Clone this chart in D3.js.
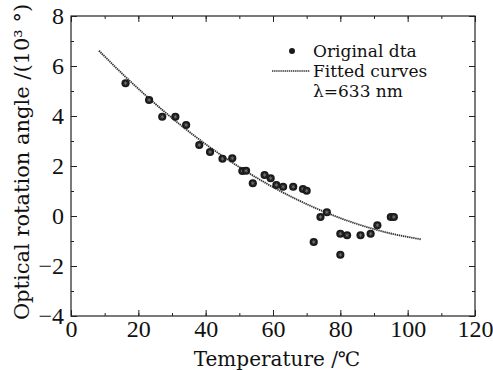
<!DOCTYPE html>
<html>
<head>
<meta charset="utf-8">
<script src="https://cdn.jsdelivr.net/npm/d3@7"></script>
<style>
  html, body { margin: 0; padding: 0; background: #fff; }
  svg { display: block; }
</style>
</head>
<body>
<svg id="chart" width="493" height="370"></svg>
<script>
// measured points (temperature in degC, optical rotation angle in 10^3 deg)
const temps = [16.2, 23.2, 27.1, 31.0, 34.2, 38.1, 41.3, 45.0, 47.9, 50.9,
  52.0, 54.0, 57.5, 59.3, 61.0, 63.0, 66.0, 68.9, 70.0, 72.1,
  74.1, 76.0, 80.0, 80.0, 82.0, 86.0, 89.0, 91.0, 95.0, 95.9];
const angles = [5.31, 4.64, 3.97, 3.97, 3.64, 2.84, 2.56, 2.29, 2.31, 1.80,
  1.81, 1.31, 1.64, 1.51, 1.24, 1.17, 1.17, 1.08, 1.01, -1.04,
  -0.04, 0.15, -0.71, -1.55, -0.77, -0.77, -0.71, -0.37, -0.04, -0.04];

// fitted curve
const fitTemps = [8.3, 15, 25, 35, 45, 55, 65, 75, 85, 95, 103.9];
const fitAngles = [6.61, 5.72, 4.49, 3.38, 2.40, 1.54, 0.80, 0.18, -0.32, -0.70, -0.93];

const xTicks = [0, 20, 40, 60, 80, 100, 120];
const yTicks = [-4, -2, 0, 2, 4, 6, 8];
const legendLabels = ['Original dta', 'Fitted curves', 'λ=633 nm'];

const serif = 'Liberation Serif';
const titleFont = 'DejaVu Serif';

const margin = { top: 16, right: 18, bottom: 54, left: 71 };
const width = 493 - margin.left - margin.right;
const height = 370 - margin.top - margin.bottom;

const svg = d3.select('#chart');
const g = svg.append('g')
  .attr('transform', `translate(${margin.left},${margin.top})`);

const x = d3.scaleLinear().domain([0, 120]).range([0, width]);
const y = d3.scaleLinear().domain([-4, 8]).range([height, 0]);

const minorX = d3.range(0, 121, 10);
const minorY = d3.range(-4, 9, 1);

function styleAxis(sel) {
  sel.attr('font-family', serif).attr('font-size', 24);
  sel.select('.domain').remove();
  sel.selectAll('.tick line').attr('stroke', '#222').attr('stroke-width', 1);
  sel.selectAll('.tick text').attr('fill', '#111');
}

// minor ticks on all four sides
g.append('g').attr('transform', `translate(0,${height})`)
  .call(d3.axisBottom(x).tickValues(minorX).tickSize(-3).tickFormat(''))
  .call(styleAxis);
g.append('g')
  .call(d3.axisTop(x).tickValues(minorX).tickSize(-3).tickFormat(''))
  .call(styleAxis);
g.append('g')
  .call(d3.axisLeft(y).tickValues(minorY).tickSize(-3).tickFormat(''))
  .call(styleAxis);
g.append('g').attr('transform', `translate(${width},0)`)
  .call(d3.axisRight(y).tickValues(minorY).tickSize(-3).tickFormat(''))
  .call(styleAxis);

// major ticks
g.append('g').attr('transform', `translate(0,${height})`)
  .call(d3.axisBottom(x).tickValues(xTicks).tickSize(-6).tickPadding(2).tickFormat(d3.format('d')))
  .call(styleAxis)
  .selectAll('.tick text').attr('dy', '0.8em');
g.append('g')
  .call(d3.axisTop(x).tickValues(xTicks).tickSize(-6).tickFormat(''))
  .call(styleAxis);
g.append('g')
  .call(d3.axisLeft(y).tickValues(yTicks).tickSize(-6).tickPadding(7).tickFormat(d3.format('d')))
  .call(styleAxis);
g.append('g').attr('transform', `translate(${width},0)`)
  .call(d3.axisRight(y).tickValues(yTicks).tickSize(-6).tickFormat(''))
  .call(styleAxis);

// frame
g.append('rect')
  .attr('width', width).attr('height', height)
  .attr('fill', 'none').attr('stroke', '#222').attr('stroke-width', 1.2);

// fitted curve
const fitData = fitTemps.map((t, i) => ({ t, v: fitAngles[i] }));
const line = d3.line()
  .x(d => x(d.t))
  .y(d => y(d.v))
  .curve(d3.curveMonotoneX);
g.append('path')
  .datum(fitData)
  .attr('fill', 'none')
  .attr('stroke', '#333')
  .attr('stroke-width', 1.8)
  .attr('stroke-dasharray', '1.4,0.7')
  .attr('d', line);

// data points
const pts = temps.map((t, i) => ({ t, v: angles[i] }));
const dots = g.selectAll('.pt').data(pts).enter().append('g')
  .attr('class', 'pt')
  .attr('transform', d => `translate(${x(d.t)},${y(d.v)})`);
dots.append('circle').attr('r', 4.1).attr('fill', '#1a1a1a');
dots.append('path')
  .attr('d', d3.symbol(d3.symbolAsterisk, 12)())
  .attr('fill', 'none').attr('stroke', '#888').attr('stroke-width', 0.6);

// legend
const leg = svg.append('g');
leg.append('circle').attr('cx', 292).attr('cy', 51).attr('r', 3).attr('fill', '#1a1a1a');
leg.append('line').attr('x1', 272).attr('x2', 310).attr('y1', 71).attr('y2', 71)
  .attr('stroke', '#333').attr('stroke-width', 1.6).attr('stroke-dasharray', '1.4,0.7');
leg.selectAll('text').data(legendLabels).enter().append('text')
  .attr('x', 313)
  .attr('y', (d, i) => 57 + i * 20)
  .attr('font-family', titleFont)
  .attr('font-size', 17)
  .attr('fill', '#111')
  .text(d => d);

// axis titles
svg.append('text')
  .attr('x', margin.left + width / 2 + 4).attr('y', 366)
  .attr('text-anchor', 'middle')
  .attr('font-family', titleFont).attr('font-size', 20).attr('fill', '#111')
  .text('Temperature /℃');
svg.append('text')
  .attr('transform', `translate(29,${margin.top + height / 2 - 4}) rotate(-90)`)
  .attr('text-anchor', 'middle')
  .attr('font-family', titleFont).attr('font-size', 21).attr('fill', '#111')
  .text('Optical rotation angle /(10³ °)');
</script>
</body>
</html>
